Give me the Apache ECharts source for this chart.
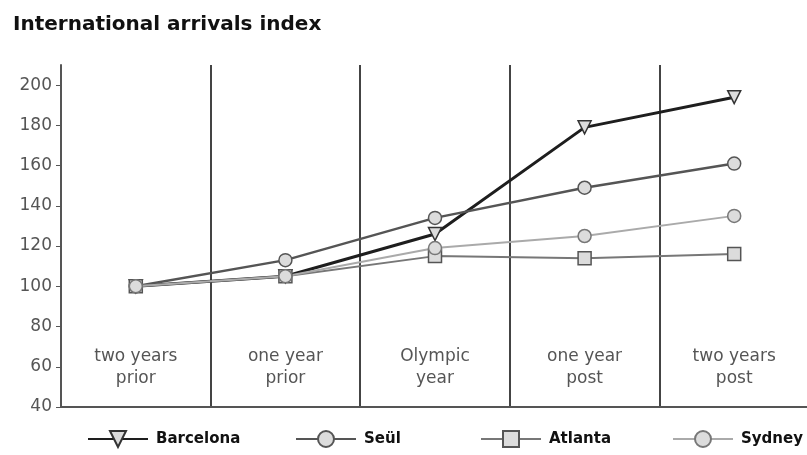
<!DOCTYPE html>
<html>
<head>
<meta charset="utf-8">
<script src="https://cdn.jsdelivr.net/npm/echarts@6/dist/echarts.min.js"></script>
<style>
  html, body { margin: 0; padding: 0; background: #fff; }
  #chart { width: 807px; height: 455px; }
</style>
</head>
<body>
<div id="chart"></div>
<script>
var periods = ['two years\nprior', 'one year\nprior', 'Olympic\nyear', 'one year\npost', 'two years\npost'];
var yTicks = [40, 60, 80, 100, 120, 140, 160, 180, 200];

var barcelona = [100, 105, 126, 179, 194];
var seul = [100, 113, 134, 149, 161];
var atlanta = [100, 105, 115, 114, 116];
var sydney = [100, 105, 119, 125, 135];

var myChart = echarts.init(document.getElementById('chart'));

function line(name, data, color, width, border, symbol, rotate) {
  return {
    name: name,
    type: 'line',
    data: data,
    symbol: symbol,
    symbolRotate: rotate || 0,
    symbolSize: 13,
    showAllSymbol: true,
    lineStyle: { color: color, width: width },
    itemStyle: { color: '#dcdcdc', borderColor: border, borderWidth: 1.5 },
    emphasis: { disabled: true }
  };
}

function legendAt(name, x) {
  return {
    data: [name],
    left: x,
    top: 425,
    itemWidth: 60,
    itemHeight: 20,
    itemGap: 0,
    textStyle: { fontFamily: 'DejaVu Sans', fontWeight: 'bold', fontSize: 15, color: '#111', padding: [0, 0, 0, 3] }
  };
}

var option = {
  animation: false,
  backgroundColor: '#fff',
  title: {
    text: 'International arrivals index',
    left: 8,
    top: 10,
    textStyle: { fontFamily: 'DejaVu Sans', fontWeight: 'bold', fontSize: 20, color: '#111' }
  },
  legend: [
    legendAt('Barcelona', 82),
    legendAt('Seül', 290),
    legendAt('Atlanta', 475),
    legendAt('Sydney', 667)
  ],
  grid: { left: 61, top: 65, width: 748, height: 342, outerBoundsMode: 'none' },
  xAxis: {
    type: 'category',
    data: periods,
    boundaryGap: true,
    axisLine: { lineStyle: { color: '#555', width: 2 } },
    axisTick: { length: 4, lineStyle: { color: '#555' } },
    axisLabel: {
      margin: -61,
      color: '#555',
      fontFamily: 'DejaVu Sans',
      fontSize: 17,
      lineHeight: 22
    },
    splitLine: { show: true, lineStyle: { color: '#444', width: 2 } }
  },
  yAxis: {
    type: 'value',
    min: 40,
    max: 210,
    interval: 20,
    axisLine: { show: true, lineStyle: { color: '#555', width: 2 } },
    axisTick: { show: true, length: 5, customValues: yTicks, lineStyle: { color: '#555' } },
    axisLabel: {
      customValues: yTicks,
      margin: 9,
      color: '#555',
      fontFamily: 'DejaVu Sans',
      fontSize: 17
    },
    splitLine: { show: false }
  },
  series: [
    line('Barcelona', barcelona, '#1e1e1e', 3, '#333', 'triangle', 180),
    line('Seül', seul, '#555', 2.5, '#555', 'circle'),
    line('Atlanta', atlanta, '#777', 2, '#555', 'rect'),
    line('Sydney', sydney, '#aaa', 2, '#777', 'circle')
  ]
};

myChart.setOption(option);
</script>
</body>
</html>
